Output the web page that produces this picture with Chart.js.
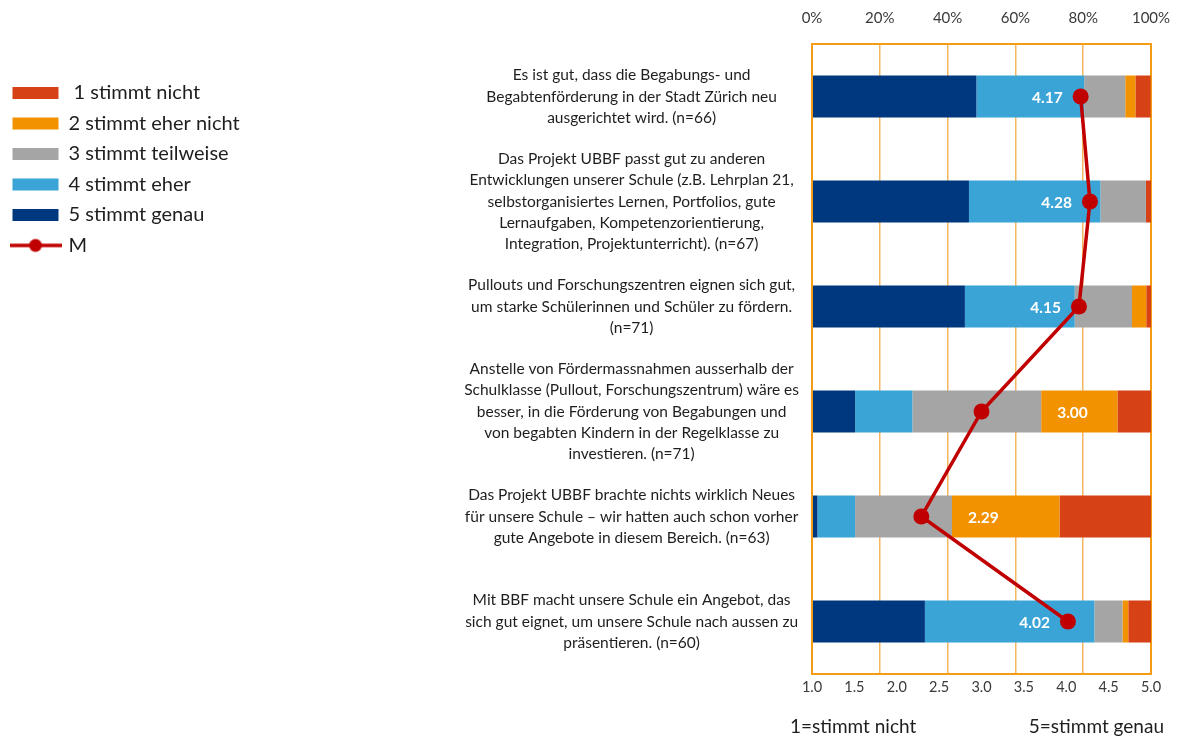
<!DOCTYPE html>
<html>
<head>
<meta charset="utf-8">
<script src="https://cdn.jsdelivr.net/npm/chart.js@4.4.1/dist/chart.umd.min.js"></script>
<style>
  html, body { margin: 0; padding: 0; background: #fff; }
  #wrap { width: 1181px; height: 738px; }
</style>
</head>
<body>
<div id="wrap"><canvas id="myChart" width="1181" height="738"></canvas></div>
<script>
// statements (y categories), one array per line of text
const questions = [
  ['Es ist gut, dass die Begabungs- und', 'Begabtenförderung in der Stadt Zürich neu', 'ausgerichtet wird. (n=66)'],
  ['Das Projekt UBBF passt gut zu anderen', 'Entwicklungen unserer Schule (z.B. Lehrplan 21,', 'selbstorganisiertes Lernen, Portfolios, gute', 'Lernaufgaben, Kompetenzorientierung,', 'Integration, Projektunterricht). (n=67)'],
  ['Pullouts und Forschungszentren eignen sich gut,', 'um starke Schülerinnen und Schüler zu fördern.', '(n=71)'],
  ['Anstelle von Fördermassnahmen ausserhalb der', 'Schulklasse (Pullout, Forschungszentrum) wäre es', 'besser, in die Förderung von Begabungen und', 'von begabten Kindern in der Regelklasse zu', 'investieren. (n=71)'],
  ['Das Projekt UBBF brachte nichts wirklich Neues', 'für unsere Schule – wir hatten auch schon vorher', 'gute Angebote in diesem Bereich. (n=63)'],
  ['Mit BBF macht unsere Schule ein Angebot, das', 'sich gut eignet, um unsere Schule nach aussen zu', 'präsentieren. (n=60)']
];

// answer shares in percent
const genau     = [48.5, 46.3, 45.1, 12.7,  1.6, 33.3];
const eher      = [31.8, 38.8, 32.4, 16.9, 11.1, 50.0];
const teilweise = [12.1, 13.4, 16.9, 38.0, 28.6,  8.3];
const eherNicht = [ 3.0,  0.0,  4.2, 22.5, 31.7,  1.7];
const nicht     = [ 4.5,  1.5,  1.4,  9.9, 27.0,  6.7];

// mean on the 1..5 scale
const means = [4.17, 4.28, 4.15, 3.00, 2.29, 4.02];

const pctTicks = [0, 20, 40, 60, 80, 100];
const meanTicks = [1.0, 1.5, 2.0, 2.5, 3.0, 3.5, 4.0, 4.5, 5.0];
const scaleNotes = ['1=stimmt nicht', '5=stimmt genau'];

const FONT = 'Lato';
const frame = '#f49d14';
const gridOrange = '#f6b65e';
const lineRed = '#c00000';
const textColor = '#1e1e1e';

// little picture for the "M" legend entry (line with a dot)
const mIcon = document.createElement('canvas');
mIcon.width = 52;
mIcon.height = 16;
const ic = mIcon.getContext('2d');
ic.strokeStyle = lineRed;
ic.lineWidth = 3.5;
ic.beginPath(); ic.moveTo(0, 8); ic.lineTo(52, 8); ic.stroke();
ic.fillStyle = lineRed;
ic.beginPath(); ic.arc(26, 8, 6.5, 0, Math.PI * 2); ic.fill();

function bar(label, data, color) {
  return {
    label: label, data: data, backgroundColor: color, borderWidth: 0,
    xAxisID: 'x', yAxisID: 'y', stack: 's', order: 1,
    barPercentage: 0.4, categoryPercentage: 1
  };
}

// white mean value inside each bar
const meanLabels = {
  id: 'meanLabels',
  afterDatasetsDraw(chart) {
    const {ctx} = chart;
    const {x, x2, y} = chart.scales;
    ctx.save();
    ctx.font = 'bold 15.5px ' + FONT;
    ctx.fillStyle = '#ffffff';
    ctx.textBaseline = 'middle';
    means.forEach((m, i) => {
      const yy = y.getPixelForValue(i) + 1;
      if (m >= 3.5) {
        ctx.textAlign = 'right';
        ctx.fillText(m.toFixed(2), x2.getPixelForValue(m) - 18, yy);
      } else {
        const start = x.getPixelForValue(genau[i] + eher[i] + teilweise[i]);
        ctx.textAlign = 'left';
        ctx.fillText(m.toFixed(2), start + 16, yy);
      }
    });
    ctx.restore();
  }
};

// the two scale notes under the bottom axis
const scaleNoteText = {
  id: 'scaleNoteText',
  afterDraw(chart) {
    const {ctx, chartArea} = chart;
    ctx.save();
    ctx.font = '19px ' + FONT;
    ctx.fillStyle = textColor;
    ctx.textBaseline = 'middle';
    ctx.textAlign = 'left';
    ctx.fillText(scaleNotes[0], chartArea.left - 22, chartArea.bottom + 53);
    ctx.textAlign = 'right';
    ctx.fillText(scaleNotes[1], chartArea.right + 13, chartArea.bottom + 53);
    ctx.restore();
  }
};

const legendRank = item => item.datasetIndex === 5 ? 99 : 4 - item.datasetIndex;
const isEdge = c => c.tick && (c.tick.value === 0 || c.tick.value === 100);

const ctx = document.getElementById('myChart').getContext('2d');
const myChart = new Chart(ctx, {
  type: 'bar',
  data: {
    labels: questions,
    datasets: [
      bar('5 stimmt genau', genau, '#00387f'),
      bar('4 stimmt eher', eher, '#3ba4d6'),
      bar('3 stimmt teilweise', teilweise, '#a5a5a5'),
      bar('2 stimmt eher nicht', eherNicht, '#f39200'),
      bar(' 1 stimmt nicht', nicht, '#d64116'),
      {
        type: 'line', label: 'M', data: means, indexAxis: 'y',
        xAxisID: 'x2', yAxisID: 'y', order: 0,
        borderColor: lineRed, backgroundColor: lineRed, borderWidth: 3.5,
        pointRadius: 8, pointHoverRadius: 8, pointBackgroundColor: lineRed,
        pointBorderColor: lineRed, pointBorderWidth: 0, tension: 0, clip: false
      }
    ]
  },
  options: {
    indexAxis: 'y',
    responsive: false,
    devicePixelRatio: 1,
    animation: false,
    layout: { padding: { left: 2, right: 30, top: 0, bottom: 0 } },
    plugins: {
      tooltip: { enabled: false },
      legend: {
        position: 'left',
        align: 'start',
        title: { display: true, text: '', padding: { top: 58, bottom: 0 } },
        labels: {
          usePointStyle: true,
          pointStyleWidth: 46,
          boxHeight: 12,
          padding: 10.5,
          color: textColor,
          font: { family: FONT, size: 20 },
          generateLabels(chart) {
            const items = Chart.defaults.plugins.legend.labels.generateLabels(chart);
            items.forEach(it => {
              if (it.datasetIndex === 5) {
                it.pointStyle = mIcon;
              } else {
                it.pointStyle = 'rect';
                it.lineWidth = 0;
                it.strokeStyle = it.fillStyle;
              }
            });
            return items;
          },
          sort: (a, b) => legendRank(a) - legendRank(b)
        }
      }
    },
    scales: {
      x: {
        type: 'linear', position: 'top', min: 0, max: 100, stacked: true,
        afterBuildTicks: s => { s.ticks = pctTicks.map(v => ({ value: v })); },
        afterFit: s => { s.height = 44; s.paddingLeft = 0; s.paddingRight = 0; },
        ticks: {
          callback: v => v + '%', color: '#3a3a3a', padding: 17,
          font: { family: FONT, size: 15 }
        },
        grid: {
          drawTicks: false,
          color: c => isEdge(c) ? frame : gridOrange,
          lineWidth: c => isEdge(c) ? 2 : 1.5
        },
        border: { display: true, color: frame, width: 2 }
      },
      x2: {
        type: 'linear', position: 'bottom', min: 1, max: 5,
        afterBuildTicks: s => { s.ticks = meanTicks.map(v => ({ value: v })); },
        afterFit: s => { s.height = 64; s.paddingLeft = 0; s.paddingRight = 0; },
        ticks: {
          callback: v => Number(v).toFixed(1), color: '#3a3a3a', padding: 5,
          font: { family: FONT, size: 14.5 }
        },
        grid: { display: false, drawTicks: false },
        border: { display: true, color: frame, width: 2 }
      },
      y: {
        type: 'category', stacked: true,
        afterFit: s => {
          s.width = 812 - s.chart.legend.width - 2;
          s.paddingTop = 0;
          s.paddingBottom = 0;
        },
        ticks: {
          crossAlign: 'center', padding: 13, autoSkip: false, color: textColor,
          font: { family: FONT, size: 15.5, lineHeight: 1.355 }
        },
        grid: { display: false, drawTicks: false },
        border: { display: true, color: frame, width: 2 }
      }
    }
  },
  plugins: [meanLabels, scaleNoteText]
});
</script>
</body>
</html>
